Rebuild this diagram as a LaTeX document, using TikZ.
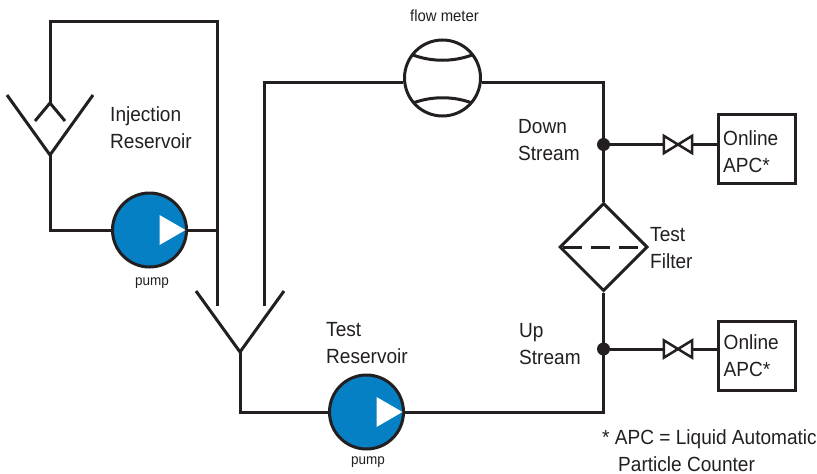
\documentclass[tikz,border=0pt]{standalone}
\usepackage{fontspec}
\setmainfont[FakeStretch=0.93]{Liberation Sans}
\usetikzlibrary{arrows.meta, positioning, shapes.geometric, calc}
\definecolor{cpipe}{HTML}{231F20}
\definecolor{cpump}{HTML}{0580C4}
\tikzset{
  pipe/.style={draw=cpipe, line width=3pt, line join=miter},
  pumpbox/.style={circle, draw=cpipe, fill=cpump, line width=3pt, inner sep=0pt, minimum size=74pt},
  meterbox/.style={circle, draw=cpipe, line width=3pt, inner sep=0pt, minimum size=76pt},
  filterbox/.style={diamond, draw=cpipe, line width=3pt, inner sep=0pt, minimum size=88pt},
  valvebox/.style={inner sep=0pt, minimum width=28pt, minimum height=17pt},
  apcbox/.style={draw=cpipe, line width=3pt, inner sep=0pt, minimum width=77pt, minimum height=69pt},
  dot/.style={circle, fill=cpipe, inner sep=0pt, minimum size=13pt},
  lbl/.style={anchor=base west, inner sep=0pt, align=left, text=cpipe, font=\fontsize{20.5}{26.5}\selectfont},
  smalllbl/.style={anchor=base west, inner sep=0pt, text=cpipe, font=\fontsize{#1}{17}\selectfont},
  smalllbl/.default=14.5,
}
\begin{document}
\begin{tikzpicture}[x=1pt, y=-1pt]
  \useasboundingbox (0,0) rectangle (817,474);
  % injection reservoir
  \coordinate (injin) at (50,103);
  \coordinate (injapex) at (50,155);
  \coordinate (lefttop) at (50,21);
  \coordinate (righttop) at (217.5,21);
  \draw[pipe] (7,95) -- (injapex) -- (93,95);
  \draw[pipe] (35,121) -- (injin) -- (65,121);
  % test reservoir
  \coordinate (testl) at (217.5,306);
  \coordinate (testr) at (264,306);
  \coordinate (testapex) at (240,352);
  \draw[pipe] (196,291) -- (testapex) -- (284,291);
  % pumps
  \foreach \n/\x/\y in {pumpa/149.5/230, pumpb/366.5/412} {
    \node[pumpbox] (\n) at (\x,\y) {};
    \fill[white, shift={(\x,\y)}] (10,-15) -- (36,0) -- (10,15) -- cycle;
  }
  % flow meter
  \node[meterbox] (meter) at (442.5,78) {};
  \coordinate (meterin) at (403,82);
  \coordinate (meterout) at (482,82);
  \draw[pipe] (413,55) .. controls (432,62) and (453,62) .. (472,55);
  \draw[pipe] (413,103) .. controls (432,96) and (453,96) .. (472,103);
  % filter
  \node[filterbox] (filter) at (603.5,247) {};
  \draw[pipe, dash pattern=on 19pt off 9pt] ($(filter.west)+(5,0)$) -- ($(filter.east)+(-7,0)$);
  % sample points
  \node[dot] (down) at (603.5,144.5) {};
  \node[dot] (up) at (603.5,349) {};
  \node[apcbox] (apca) at (756.5,148.5) {};
  \node[apcbox] (apcb) at (757,356) {};
  \node[valvebox] (valvea) at (678,144.5) {};
  \node[valvebox] (valveb) at (678,349) {};
  % pipes
  \draw[pipe] (injin) -- (lefttop) -- (righttop) -- (testl);
  \draw[pipe] (injapex) |- (pumpa);
  \draw[pipe] (pumpa) -- (pumpa -| testl);
  \draw[pipe] (testapex) |- (pumpb);
  \draw[pipe] (testr) |- (meterin);
  \draw[pipe] (meterout) -| (filter.north);
  \draw[pipe] (filter.south) |- (pumpb);
  \draw[pipe] (down) -- (valvea.west);
  \draw[pipe] (valvea.east) -- (valvea -| apca.west);
  \draw[pipe] (up) -- (valveb.west);
  \draw[pipe] (valveb.east) -- (valveb -| apcb.west);
  \foreach \v in {valvea, valveb} {
    \draw[pipe, line width=2.5pt] (\v.north west) -- (\v.south east) -- (\v.north east) -- (\v.south west) -- cycle;
  }
  % labels
  \node[lbl] (injlbl) at (110,148) {Injection\\Reservoir};
  \node[lbl] (testlbl) at (326,363) {Test\\Reservoir};
  \node[lbl] (downlbl) at (518,160) {Down\\Stream};
  \node[lbl] (uplbl) at (519,364) {Up\\Stream};
  \node[lbl] (filterlbl) at (650,268) {Test\\Filter};
  \node[lbl] (apcalbl) at (723,172) {Online\\APC*};
  \node[lbl] (apcblbl) at (723.5,376) {Online\\APC*};
  \node[lbl] (footlbl) at (602,471) {* APC = Liquid Automatic\\\hspace{16pt}Particle Counter};
  \node[smalllbl=16] (meterlbl) at (410,21) {flow meter};
  \node[smalllbl] (pumpalbl) at (135,285) {pump};
  \node[smalllbl] (pumpblbl) at (351,464) {pump};
\end{tikzpicture}
\end{document}
